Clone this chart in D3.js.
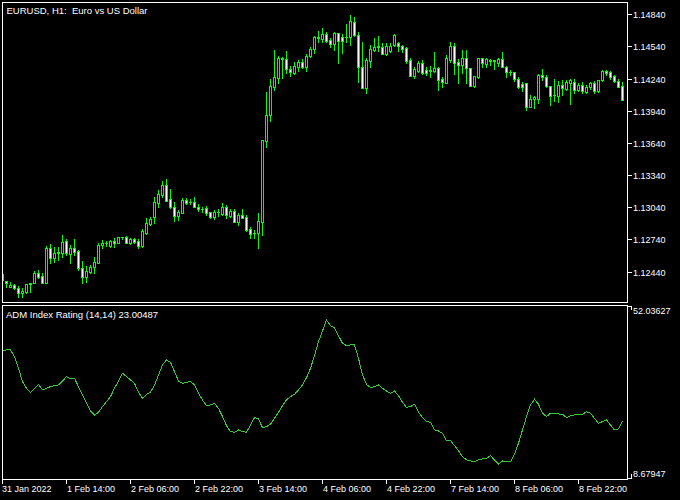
<!DOCTYPE html>
<html>
<head>
<meta charset="utf-8">
<script src="https://cdn.jsdelivr.net/npm/d3@7"></script>
<style>
html,body{margin:0;padding:0;background:#000;}
svg{display:block;}
text{font-family:"Liberation Sans",Arial,sans-serif;fill:#fff;white-space:pre;}
</style>
</head>
<body>
<svg id="chart" width="680" height="500"></svg>
<script>
// ---- Data (EURUSD H1, bars from 31 Jan 2022 22:00) ----
const openPrices = [1.12362,1.12353,1.12300,1.12316,1.12285,1.12238,1.12253,1.12325,1.12332,1.12425,1.12400,1.12337,1.12658,1.12565,1.12617,1.12617,1.12729,1.12605,1.12658,1.12633,1.12471,1.12387,1.12440,1.12481,1.12524,1.12689,1.12704,1.12682,1.12726,1.12704,1.12759,1.12766,1.12704,1.12745,1.12726,1.12679,1.12798,1.12884,1.12947,1.13083,1.13155,1.13248,1.13115,1.13040,1.12962,1.12990,1.13108,1.13090,1.13092,1.13046,1.13022,1.13031,1.12994,1.12953,1.12992,1.12975,1.13046,1.12962,1.13006,1.12906,1.12968,1.12947,1.12838,1.12798,1.12803,1.12906,1.13661,1.13901,1.14165,1.14243,1.14423,1.14420,1.14330,1.14295,1.14351,1.14395,1.14351,1.14454,1.14513,1.14625,1.14609,1.14656,1.14600,1.14560,1.14663,1.14631,1.14625,1.14625,1.14771,1.14647,1.14351,1.14150,1.14407,1.14507,1.14532,1.14538,1.14470,1.14500,1.14553,1.14569,1.14544,1.14523,1.14414,1.14267,1.14314,1.14388,1.14320,1.14314,1.14314,1.14336,1.14234,1.14202,1.14414,1.14544,1.14398,1.14367,1.14429,1.14336,1.14171,1.14252,1.14429,1.14376,1.14407,1.14407,1.14388,1.14420,1.14351,1.14299,1.14299,1.14234,1.14190,1.14196,1.13978,1.14047,1.14047,1.14274,1.14252,1.14171,1.14087,1.14081,1.14180,1.14140,1.14202,1.14211,1.14134,1.14180,1.14118,1.14159,1.14202,1.14127,1.14227,1.14314,1.14304,1.14264,1.14218,1.14171];
const highPrices = [1.12440,1.12353,1.12341,1.12325,1.12306,1.12285,1.12325,1.12332,1.12449,1.12456,1.12425,1.12679,1.12698,1.12673,1.12673,1.12782,1.12742,1.12689,1.12742,1.12642,1.12539,1.12493,1.12502,1.12574,1.12704,1.12735,1.12726,1.12735,1.12751,1.12763,1.12766,1.12773,1.12754,1.12757,1.12745,1.12835,1.12938,1.12952,1.13139,1.13201,1.13285,1.13304,1.13211,1.13092,1.13015,1.13124,1.13130,1.13115,1.13133,1.13068,1.13040,1.13052,1.12999,1.13015,1.13024,1.13083,1.13062,1.13022,1.13022,1.12984,1.13024,1.12968,1.12859,1.12829,1.12984,1.13668,1.14118,1.14234,1.14507,1.14451,1.14439,1.14498,1.14358,1.14398,1.14414,1.14420,1.14467,1.14538,1.14637,1.14684,1.14709,1.14677,1.14616,1.14677,1.14668,1.14656,1.14749,1.14833,1.14812,1.14672,1.14584,1.14435,1.14553,1.14622,1.14637,1.14569,1.14575,1.14575,1.14656,1.14584,1.14553,1.14538,1.14429,1.14351,1.14404,1.14414,1.14351,1.14358,1.14491,1.14351,1.14258,1.14460,1.14584,1.14569,1.14420,1.14507,1.14507,1.14336,1.14264,1.14429,1.14429,1.14429,1.14420,1.14414,1.14429,1.14491,1.14358,1.14320,1.14304,1.14252,1.14211,1.14202,1.14087,1.14078,1.14283,1.14327,1.14274,1.14171,1.14234,1.14218,1.14227,1.14227,1.14234,1.14234,1.14196,1.14211,1.14180,1.14211,1.14221,1.14227,1.14320,1.14320,1.14314,1.14274,1.14234,1.14211];
const lowPrices = [1.12346,1.12300,1.12300,1.12276,1.12207,1.12207,1.12238,1.12253,1.12332,1.12378,1.12337,1.12337,1.12518,1.12533,1.12549,1.12580,1.12595,1.12518,1.12595,1.12456,1.12337,1.12346,1.12425,1.12425,1.12518,1.12658,1.12679,1.12673,1.12673,1.12704,1.12742,1.12704,1.12698,1.12710,1.12658,1.12673,1.12791,1.12875,1.12891,1.13046,1.13133,1.13102,1.13031,1.12915,1.12922,1.12984,1.13068,1.13068,1.13040,1.13006,1.12994,1.12968,1.12938,1.12928,1.12959,1.12968,1.12938,1.12953,1.12900,1.12875,1.12938,1.12822,1.12751,1.12751,1.12658,1.12782,1.13605,1.13848,1.14134,1.14196,1.14243,1.14295,1.14264,1.14283,1.14314,1.14336,1.14314,1.14439,1.14476,1.14584,1.14584,1.14584,1.14532,1.14507,1.14388,1.14482,1.14584,1.14553,1.14637,1.14211,1.14150,1.14109,1.14351,1.14500,1.14500,1.14467,1.14460,1.14491,1.14547,1.14500,1.14491,1.14383,1.14267,1.14243,1.14304,1.14283,1.14274,1.14252,1.14304,1.14134,1.14159,1.14196,1.14398,1.14283,1.14196,1.14290,1.14196,1.14171,1.14165,1.14243,1.14351,1.14351,1.14367,1.14327,1.14358,1.14351,1.14258,1.14274,1.14218,1.14150,1.14127,1.13947,1.13973,1.13963,1.14015,1.14227,1.14165,1.13994,1.14034,1.14025,1.14087,1.14134,1.14003,1.14109,1.14127,1.14109,1.14109,1.14140,1.14109,1.14118,1.14221,1.14274,1.14236,1.14211,1.14159,1.14041];
const closePrices = [1.12418,1.12332,1.12316,1.12285,1.12238,1.12260,1.12325,1.12330,1.12430,1.12393,1.12337,1.12658,1.12565,1.12617,1.12620,1.12719,1.12611,1.12658,1.12626,1.12471,1.12387,1.12446,1.12481,1.12527,1.12689,1.12710,1.12707,1.12726,1.12704,1.12760,1.12766,1.12704,1.12745,1.12719,1.12682,1.12819,1.12891,1.12928,1.13087,1.13164,1.13248,1.13102,1.13040,1.12962,1.12994,1.13108,1.13083,1.13094,1.13046,1.13022,1.13024,1.12984,1.12953,1.12994,1.12994,1.13046,1.12968,1.13006,1.12906,1.12968,1.12943,1.12829,1.12788,1.12801,1.12912,1.13668,1.13901,1.14171,1.14252,1.14435,1.14429,1.14327,1.14299,1.14358,1.14398,1.14351,1.14451,1.14513,1.14625,1.14619,1.14656,1.14594,1.14560,1.14663,1.14594,1.14594,1.14628,1.14780,1.14647,1.14351,1.14150,1.14414,1.14513,1.14532,1.14544,1.14470,1.14544,1.14544,1.14647,1.14544,1.14516,1.14407,1.14267,1.14327,1.14388,1.14295,1.14295,1.14316,1.14336,1.14227,1.14206,1.14429,1.14544,1.14388,1.14367,1.14429,1.14336,1.14174,1.14264,1.14429,1.14383,1.14420,1.14409,1.14409,1.14420,1.14351,1.14299,1.14302,1.14234,1.14165,1.14159,1.13978,1.14047,1.14066,1.14274,1.14252,1.14174,1.14081,1.14084,1.14180,1.14150,1.14211,1.14227,1.14134,1.14180,1.14127,1.14159,1.14196,1.14127,1.14227,1.14314,1.14290,1.14252,1.14218,1.14165,1.14041];
const admValues = [40.78,40.95,40.95,39.27,36.33,32.97,31.29,30.28,31.29,32.29,30.87,31.29,31.71,31.96,32.13,33.13,34.23,33.64,33.81,31.71,29.61,27.51,25.58,24.57,25.24,26.67,27.93,29.19,31.29,33.13,35.07,34.23,33.39,32.55,30.28,28.77,29.78,30.28,32.13,34.65,37.17,38.43,37.84,35.49,33.13,32.55,32.80,32.97,32.13,30.03,28.35,26.92,27.09,27.51,26.25,24.15,21.88,20.37,20.20,20.79,20.37,20.20,22.05,23.90,23.56,21.38,21.63,22.22,23.73,25.24,26.92,28.35,29.19,29.78,30.87,32.13,33.98,36.33,39.52,43.05,45.74,48.51,47.08,46.58,44.56,42.63,42.04,42.21,42.21,38.85,34.65,32.29,31.45,31.71,32.13,31.29,30.61,30.03,30.61,29.44,27.76,26.50,26.67,27.26,25.24,23.90,22.89,22.72,20.79,20.54,19.95,18.10,18.10,16.84,15.58,14.07,13.23,12.98,12.81,13.23,13.48,13.65,14.32,13.23,12.22,12.98,12.81,12.81,14.66,17.43,20.79,24.15,27.09,28.52,27.26,24.99,24.15,24.99,24.82,24.82,24.73,23.90,24.40,24.57,24.73,24.73,25.41,24.99,23.73,22.47,22.89,23.31,22.05,20.79,21.04,23.00];
const priceTicks = [1.14840,1.14540,1.14240,1.13940,1.13640,1.13340,1.13040,1.12740,1.12440];
const timeTickIndex = [0,16,32,48,64,80,96,112,128,144];
const timeTickLabels = ["31 Jan 2022","1 Feb 14:00","2 Feb 06:00","2 Feb 22:00","3 Feb 14:00","4 Feb 06:00","4 Feb 22:00","7 Feb 14:00","8 Feb 06:00","8 Feb 22:00"];
const indMax = 52.03627, indMin = 8.67947;
const titleText = "EURUSD, H1:  Euro vs US Dollar";
const indTitle = "ADM Index Rating (14,14) 23.00487";

// ---- Drawing ----
const svg = d3.select("#chart");
const candleColor = "#00ff00";
const lineColor = "#32cd32";
const n = openPrices.length;

const x = d3.scaleLinear().domain([0, n - 1]).range([2, 2 + 4 * (n - 1)]);
const y = d3.scaleLinear().domain([1.121525, 1.149497]).range([302.5, 2.5]);
const yi = d3.scaleLinear().domain([indMin, indMax]).range([478, 306]);

svg.append("rect").attr("width", 680).attr("height", 500).attr("fill", "#000");

const defs = svg.append("defs");
defs.append("clipPath").attr("id", "clipMain").append("rect").attr("x", 3).attr("y", 3).attr("width", 624).attr("height", 299);
defs.append("clipPath").attr("id", "clipInd").append("rect").attr("x", 3).attr("y", 306).attr("width", 624).attr("height", 173);

// candles
const gC = svg.append("g").attr("clip-path", "url(#clipMain)").attr("shape-rendering", "crispEdges");
d3.range(n).forEach(i => {
  const cx = x(i);
  const o = openPrices[i], c = closePrices[i];
  const yh = Math.round(y(highPrices[i])), yl = Math.round(y(lowPrices[i]));
  gC.append("line").attr("x1", cx + 0.5).attr("x2", cx + 0.5)
    .attr("y1", yh).attr("y2", yl + 1).attr("stroke", candleColor).attr("stroke-width", 1);
  const top = Math.round(y(Math.max(o, c))), bot = Math.round(y(Math.min(o, c)));
  if (bot - top < 1) {
    gC.append("line").attr("x1", cx - 1).attr("x2", cx + 2).attr("y1", top + 0.5).attr("y2", top + 0.5)
      .attr("stroke", candleColor).attr("stroke-width", 1);
  } else {
    gC.append("rect").attr("x", cx - 0.5).attr("y", top + 0.5).attr("width", 2).attr("height", bot - top)
      .attr("fill", c >= o ? "#000" : "#fff").attr("stroke", candleColor).attr("stroke-width", 1);
  }
});

// indicator line
const line = d3.line().x((d, i) => x(i) + 0.5).y(d => yi(d));
svg.append("g").attr("clip-path", "url(#clipInd)").append("path")
  .datum(admValues).attr("d", line).attr("fill", "none")
  .attr("stroke", lineColor).attr("stroke-width", 1).attr("shape-rendering", "crispEdges");

// panel borders
const borders = svg.append("g").attr("shape-rendering", "crispEdges").attr("fill", "none").attr("stroke", "#fff");
borders.append("rect").attr("x", 2.5).attr("y", 2.5).attr("width", 625).attr("height", 300);
borders.append("rect").attr("x", 2.5).attr("y", 305.5).attr("width", 625).attr("height", 174);

// price axis
const pa = svg.append("g");
priceTicks.forEach(p => {
  const ty = Math.round(y(p)) + 0.5;
  pa.append("line").attr("x1", 627.5).attr("x2", 632).attr("y1", ty).attr("y2", ty)
    .attr("stroke", "#fff").attr("shape-rendering", "crispEdges");
  pa.append("text").attr("x", 633).attr("y", ty + 3.5).attr("font-size", "9px").text(p.toFixed(5));
});

// indicator scale labels
const ia = svg.append("g");
ia.append("path").attr("d", "M627.5,306.5H631.5V310").attr("stroke", "#fff").attr("fill", "none").attr("shape-rendering", "crispEdges");
ia.append("path").attr("d", "M631.5,474V478.5H627.5").attr("stroke", "#fff").attr("fill", "none").attr("shape-rendering", "crispEdges");
ia.append("text").attr("x", 633).attr("y", 314).attr("font-size", "9px").text(indMax.toFixed(5));
ia.append("text").attr("x", 633).attr("y", 477).attr("font-size", "9px").text(indMin.toFixed(5));

// time axis
const ta = svg.append("g");
timeTickIndex.forEach((ti, k) => {
  const tx = x(ti) + 0.5;
  ta.append("line").attr("x1", tx).attr("x2", tx).attr("y1", 479.5).attr("y2", 484)
    .attr("stroke", "#fff").attr("shape-rendering", "crispEdges");
  ta.append("text").attr("x", k === 0 ? 2 : tx + 0.5).attr("y", 492).attr("font-size", "9px").text(timeTickLabels[k]);
});

// titles
svg.append("text").attr("x", 6.5).attr("y", 13.5).attr("font-size", "9.5px").text(titleText);
svg.append("text").attr("x", 6).attr("y", 318).attr("font-size", "9.5px").text(indTitle);
</script>
</body>
</html>
